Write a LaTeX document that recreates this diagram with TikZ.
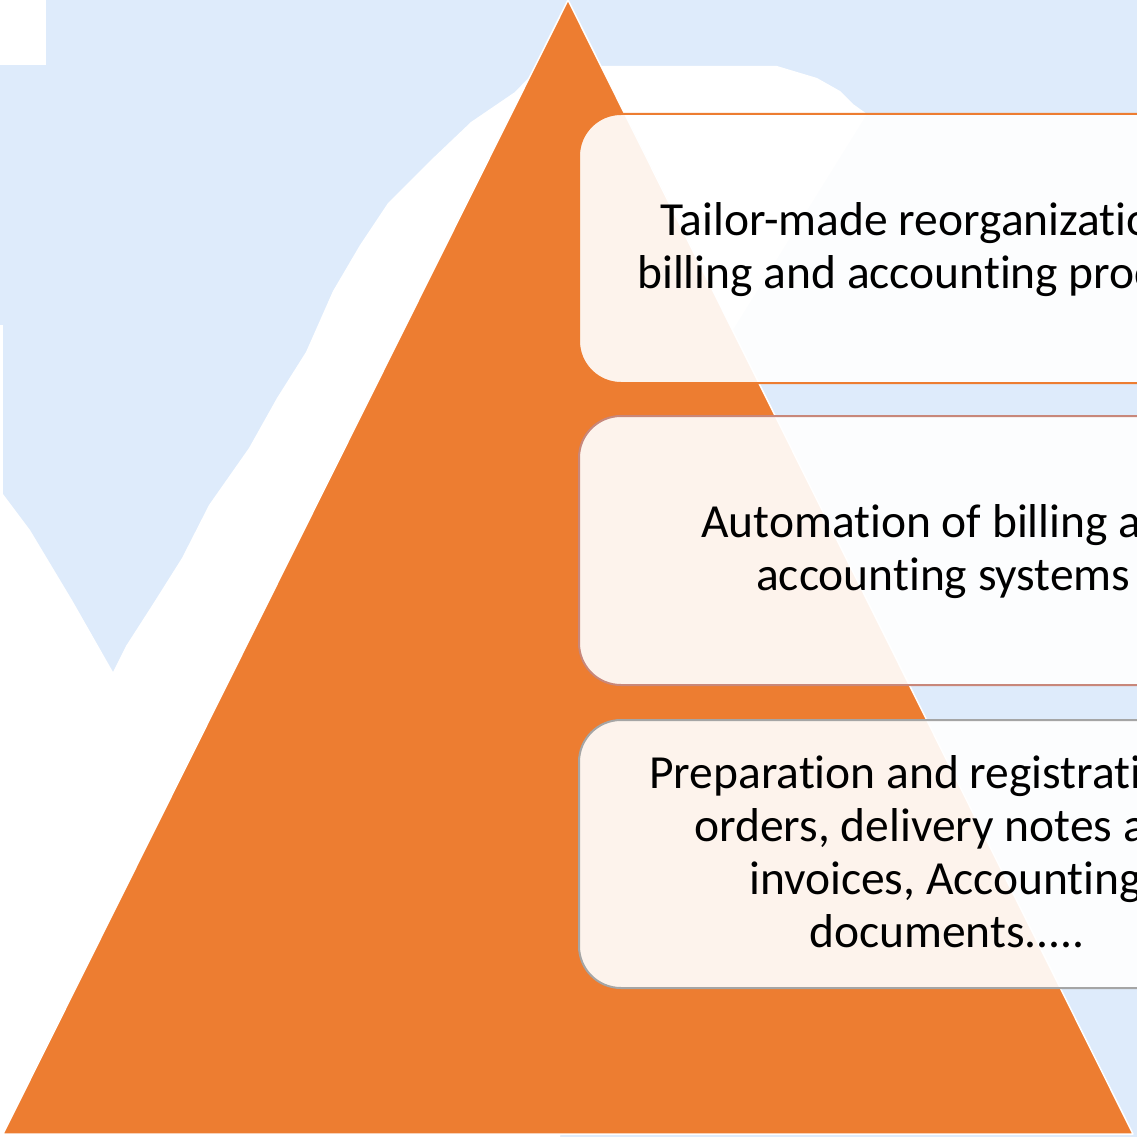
\documentclass[tikz,border=0pt]{standalone}
\usepackage{fontspec}
\setmainfont{Carlito}[Ligatures={NoCommon,NoContextual}]
\definecolor{bgblue}{HTML}{DEEBFB}
\definecolor{triorange}{HTML}{ED7D31}
\definecolor{lineA}{HTML}{ED7D31}
\definecolor{lineB}{HTML}{C8877A}
\definecolor{lineC}{HTML}{A5A5A5}
\begin{document}
\begin{tikzpicture}[x=1pt,y=-1pt,
  listbox/.style={draw=#1, line width=2pt, fill=white, fill opacity=0.91,
    rounded corners=42pt, minimum width=720pt, inner sep=0pt},
  linetext/.style={anchor=base west, inner sep=0pt,
    font=\fontsize{47.5}{53}\selectfont, text=black}]
\useasboundingbox (0,0) rectangle (1137,1137);
\clip (0,0) rectangle (1137,1137);
% background
\fill[bgblue] (0,0) rectangle (1137,1137);
\fill[white] (0,0) rectangle (46,65);
\fill[white] (0,325) rectangle (3,494);
\fill[white] (0,1137) -- (0,494) -- (3,494) -- (30,530) -- (72,600) -- (113,672)
  -- (126,646) -- (153,604) -- (182,558) -- (209,505) -- (249,448) -- (277,398)
  -- (306,352) -- (333,291) -- (360,245) -- (388,203) -- (430,161) -- (471,122)
  -- (515,92) -- (540,66) -- (777,66) -- (817,78) -- (840,91) -- (853,104)
  -- (867,114) -- (700,383) -- (560,1137) -- cycle;
% pyramid
\draw[white, line width=1.5pt, line join=round, fill=triorange]
  (568,0) -- (1133,1134) -- (3,1134) -- cycle;
% boxes
\node[listbox=lineA, minimum height=269pt] (b1) at (939,248.5) {};
\node[listbox=lineB, minimum height=269pt] (b2) at (939,550.5) {};
\node[listbox=lineC, minimum height=268pt] (b3) at (939,854) {};
% texts
\node[linetext] (t11) at (660,235) {Tailor-made reorganization of};
\node[linetext] (t12) at (637,288) {billing and accounting processes};
\node[linetext] (t21) at (701,537) {Automation of billing and};
\node[linetext] (t22) at (756,590) {accounting systems};
\node[linetext] (t31) at (649,788) {Preparation and registration of};
\node[linetext] (t32) at (694,841) {orders, delivery notes and};
\node[linetext] (t33) at (749,894) {invoices, Accounting};
\node[linetext] (t34) at (809,947) {documents.....};
\end{tikzpicture}
\end{document}
